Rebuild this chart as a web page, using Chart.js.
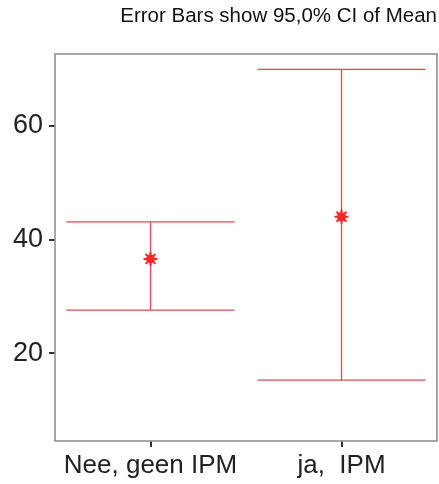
<!DOCTYPE html>
<html>
<head>
<meta charset="utf-8">
<script src="https://cdn.jsdelivr.net/npm/chart.js@4"></script>
<style>
  html, body { margin: 0; padding: 0; background: #fff; }
  #wrap { width: 439px; height: 484px; }
</style>
</head>
<body>
<div id="wrap"><canvas id="chart"></canvas></div>
<script>
const categories = ['Nee, geen IPM', 'ja,  IPM'];
const means = [36.6, 44.0];
const lowerCI = [27.6, 15.3];
const upperCI = [43.1, 69.9];
const yTicks = [20, 40, 60];

const lineColor = 'rgb(228, 72, 82)';
const frameColor = '#8a8a8a';
const font = 'Liberation Sans, Arial, sans-serif';

// draws the CI whiskers and the frame round the plot
const errorBars = {
  id: 'errorBars',
  beforeDatasetsDraw(chart) {
    const { ctx, scales: { x, y } } = chart;
    const half = (x.getPixelForValue(1) - x.getPixelForValue(0)) * 0.44;
    ctx.save();
    ctx.strokeStyle = lineColor;
    ctx.lineWidth = 1.3;
    categories.forEach((c, i) => {
      const px = x.getPixelForValue(i);
      const top = y.getPixelForValue(upperCI[i]);
      const bot = y.getPixelForValue(lowerCI[i]);
      ctx.beginPath();
      ctx.moveTo(px, top); ctx.lineTo(px, bot);
      ctx.moveTo(px - half, top); ctx.lineTo(px + half, top);
      ctx.moveTo(px - half, bot); ctx.lineTo(px + half, bot);
      ctx.stroke();
    });
    ctx.restore();
  },
  afterDraw(chart) {
    const { ctx, chartArea: a } = chart;
    ctx.save();
    ctx.strokeStyle = frameColor;
    ctx.lineWidth = 1.5;
    ctx.strokeRect(a.left, a.top, a.right - a.left, a.bottom - a.top);
    ctx.restore();
  }
};

new Chart(document.getElementById('chart'), {
  type: 'line',
  data: {
    labels: categories,
    datasets: [
      {
        data: means,
        showLine: false,
        pointStyle: 'circle',
        pointRadius: 4.5,
        pointBackgroundColor: 'rgb(255, 40, 40)',
        pointBorderWidth: 0
      },
      {
        data: means,
        showLine: false,
        pointStyle: 'star',
        pointRadius: 7,
        pointBorderColor: 'rgb(255, 40, 40)',
        pointBorderWidth: 2
      }
    ]
  },
  options: {
    responsive: true,
    maintainAspectRatio: false,
    animation: false,
    layout: { autoPadding: false, padding: { left: 0, right: 2, top: 0, bottom: 0 } },
    plugins: {
      legend: { display: false },
      tooltip: { enabled: false },
      title: {
        display: true,
        text: 'Error Bars show 95,0% CI of Mean',
        align: 'end',
        color: '#111',
        font: { family: font, size: 20.5, weight: 'normal' },
        padding: { top: 4, bottom: 25.4 }
      }
    },
    scales: {
      x: {
        offset: true,
        grid: { display: true, offset: false, drawOnChartArea: false, tickLength: 6, color: '#333', lineWidth: 2 },
        border: { display: false },
        ticks: {
          color: '#222',
          padding: 3,
          font: { family: font, size: 26 }
        },
        afterFit(scale) {
          scale.height = 43;
          scale.paddingLeft = 0;
          scale.paddingRight = 0;
        }
      },
      y: {
        min: 4.6,
        max: 72.6,
        grid: { display: true, drawOnChartArea: false, tickLength: 6, color: '#333', lineWidth: 2 },
        border: { display: false },
        afterBuildTicks(scale) { scale.ticks = yTicks.map(v => ({ value: v })); },
        ticks: {
          color: '#222',
          padding: 6,
          font: { family: font, size: 27 }
        },
        afterFit(scale) { scale.width = 55; }
      }
    }
  },
  plugins: [errorBars]
});
</script>
</body>
</html>
